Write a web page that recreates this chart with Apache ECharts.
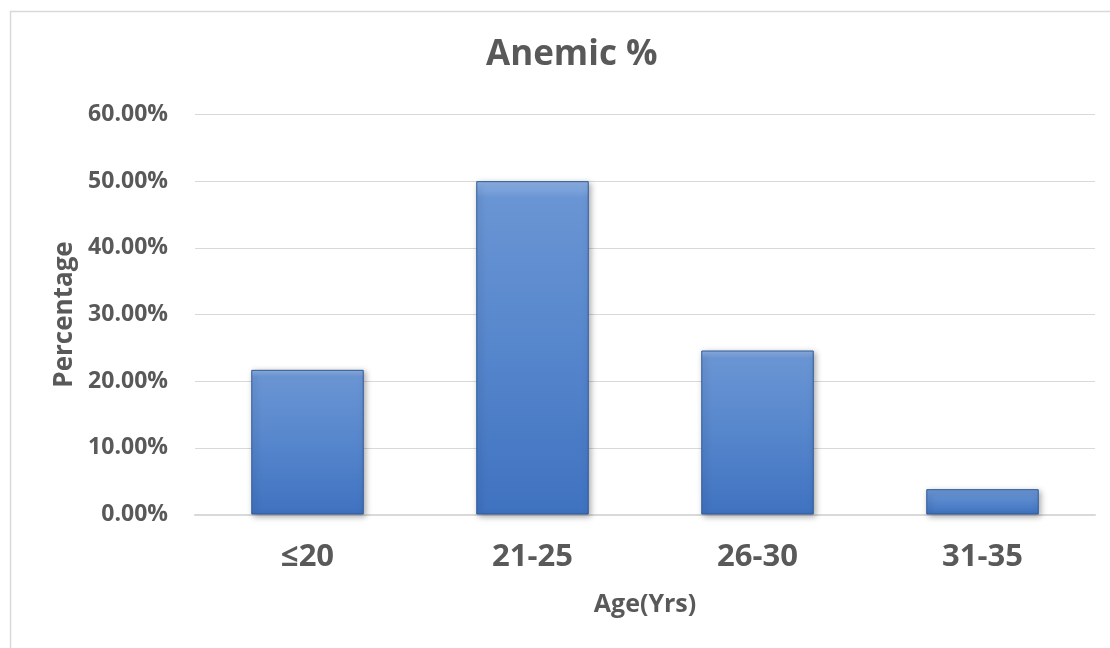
<!DOCTYPE html>
<html>
<head>
<meta charset="utf-8">
<script src="https://cdn.jsdelivr.net/npm/echarts@6/dist/echarts.min.js"></script>
<style>
  html, body { margin: 0; padding: 0; background: #fff; }
  #chart { width: 1110px; height: 648px; }
</style>
</head>
<body>
<div id="chart"></div>
<script>
// Age groups and the share of anemic cases in each
const ageGroups = ['≤20', '21-25', '26-30', '31-35'];
const anemicPct = [21.7, 50.0, 24.6, 3.8];
const yTicks = { min: 0, max: 60, step: 10 };

const textColor = '#595959';
const fontFamily = '"Open Sans", "DejaVu Sans", sans-serif';

const chart = echarts.init(document.getElementById('chart'));

chart.setOption({
  backgroundColor: '#ffffff',
  animation: false,
  title: {
    text: 'Anemic %',
    left: 481,
    top: 33,
    textStyle: { color: textColor, fontSize: 35, fontWeight: 'bold', fontFamily }
  },
  graphic: [{
    type: 'rect',
    left: 8, top: 9,
    shape: { width: 1110, height: 648 },
    style: { fill: 'none', stroke: '#d9d9d9', lineWidth: 1.5 },
    silent: true
  }],
  grid: { left: 195, right: 15, top: 114.5, bottom: 133.5 },
  xAxis: {
    type: 'category',
    data: ageGroups,
    name: 'Age(Yrs)',
    nameLocation: 'middle',
    nameGap: 78,
    nameTextStyle: { color: textColor, fontSize: 25, fontWeight: 'bold', fontFamily },
    axisLine: { lineStyle: { color: '#d9d9d9', width: 2 } },
    axisTick: { show: false },
    axisLabel: { color: textColor, fontSize: 31, fontWeight: 'bold', fontFamily, margin: 27 }
  },
  yAxis: {
    type: 'value',
    min: yTicks.min, max: yTicks.max, interval: yTicks.step,
    name: 'Percentage',
    nameLocation: 'middle',
    nameGap: 116,
    nameRotate: 90,
    nameTextStyle: { color: textColor, fontSize: 26, fontWeight: 'bold', fontFamily },
    axisLine: { show: false },
    axisTick: { show: false },
    splitLine: { lineStyle: { color: '#d9d9d9', width: 1 } },
    axisLabel: {
      color: textColor, fontSize: 23, fontWeight: 'bold', fontFamily, margin: 27,
      formatter: v => v.toFixed(2) + '%'
    }
  },
  series: [{
    type: 'bar',
    data: anemicPct,
    barWidth: '50%',
    itemStyle: {
      color: new echarts.graphic.LinearGradient(0, 0, 0, 1, [
        { offset: 0, color: '#8fb2e4' },
        { offset: 0.05, color: '#6a95d4' },
        { offset: 0.5, color: '#5686cc' },
        { offset: 1, color: '#3f72c0' }
      ]),
      borderColor: '#2e5a9a',
      borderWidth: 1,
      shadowColor: 'rgba(0,0,0,0.35)',
      shadowBlur: 6,
      shadowOffsetX: 2,
      shadowOffsetY: 2
    }
  }]
});
</script>
</body>
</html>
